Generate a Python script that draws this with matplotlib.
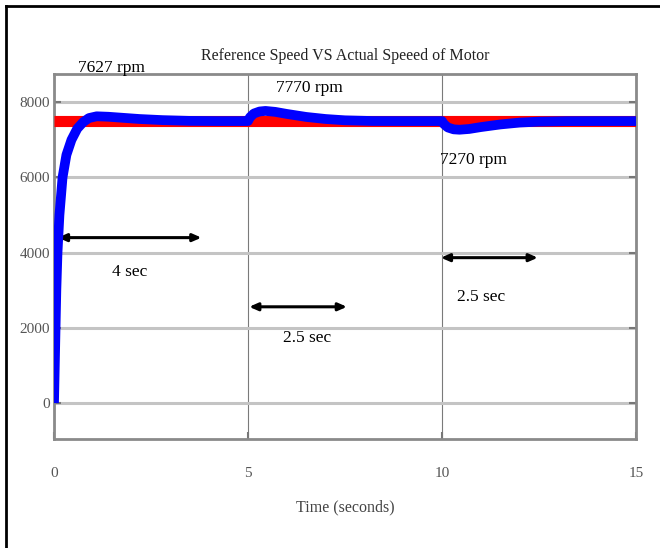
"""
Reference speed vs actual speed of the motor (speed controller step test).

Red: reference speed (7500 rpm), blue: measured motor speed.
Output: out.png
"""

import matplotlib
matplotlib.use('Agg')
import matplotlib.pyplot as plt
from matplotlib.lines import Line2D

# ---- Data ------------------------------------------------------------
REF_TIME  = [0, 15]
REF_SPEED = [7500, 7500]

ACT_TIME = [0, 0.03, 0.06, 0.09, 0.14, 0.22, 0.32, 0.45, 0.6, 0.75, 0.9,
            1.1, 1.4, 1.8, 2.2, 2.8, 3.5, 4.2, 5.0,
            5.05, 5.15, 5.3, 5.45, 5.7, 6.0, 6.5, 7.0, 7.5, 8.2, 9.0, 10.0,
            10.05, 10.15, 10.3, 10.45, 10.7, 11.0, 11.5, 12.0, 12.5, 13.2,
            14.0, 15.0]
ACT_SPEED = [0, 1500, 3000, 4000, 5000, 6000, 6600, 7000, 7300, 7470, 7580,
             7627, 7615, 7585, 7555, 7525, 7505, 7500, 7500,
             7600, 7700, 7755, 7770, 7745, 7690, 7610, 7555, 7520, 7502, 7500, 7500,
             7420, 7330, 7280, 7270, 7290, 7340, 7410, 7460, 7485, 7498,
             7500, 7500]

PEAK_LABELS = ['7627 rpm', '7770 rpm', '7270 rpm']
SPAN_LABELS = ['4 sec', '2.5 sec', '2.5 sec']
SPAN_START  = [0.1, 5.03, 9.97]
SPAN_END    = [3.8, 7.55, 12.47]

X_TICKS = [0, 5, 10, 15]
Y_TICKS = [0, 2000, 4000, 6000, 8000]

TITLE  = 'Reference Speed VS Actual Speeed of Motor'
XLABEL = 'Time (seconds)'

plt.rcParams['font.family'] = ['Liberation Serif', 'DejaVu Serif']

W, H = 660, 548


def main():
    fig = plt.figure(figsize=(W / 100, H / 100), dpi=100)
    ax = fig.add_axes([54 / W, 1 - 439 / H, (636 - 54) / W, (439 - 74) / H])

    ax.plot(REF_TIME, REF_SPEED, color='#ff0000', lw=8, solid_capstyle='butt', zorder=3)
    ax.plot(ACT_TIME, ACT_SPEED, color='#0000ff', lw=7, solid_capstyle='butt',
            solid_joinstyle='round', zorder=4)

    ax.set_xlim(0, 15)
    ax.set_ylim(-956, 8752)
    ax.set_xticks(X_TICKS)
    ax.set_yticks(Y_TICKS)

    # grid: heavy light-gray horizontal lines, thin dark vertical lines
    ax.yaxis.grid(True, color='#c4c4c4', lw=2.2)
    ax.xaxis.grid(True, color='#7a7a7a', lw=0.8)
    ax.set_axisbelow(True)

    for s in ax.spines.values():
        s.set_color('#8a8a8a')
        s.set_linewidth(2)

    ax.tick_params(axis='both', direction='in', length=5, width=1.5, color='#777777',
                   labelcolor='#555555', labelsize=11)
    ax.tick_params(axis='y', right=True, pad=3)
    ax.tick_params(axis='x', pad=20)

    # peak annotations
    ax.text(0.62, 8907, PEAK_LABELS[0], fontsize=12.5, ha='left', va='center')
    ax.text(5.72, 8373, PEAK_LABELS[1], fontsize=12.5, ha='left', va='center')
    ax.text(9.95, 6453, PEAK_LABELS[2], fontsize=12.5, ha='left', va='center')

    # settling time arrows
    arrow_y = [4400, 2560, 3867]
    label_xy = [(1.96, 3493), (6.52, 1733), (11.0, 2827)]
    for x0, x1, y, (lx, ly), lab in zip(SPAN_START, SPAN_END, arrow_y, label_xy, SPAN_LABELS):
        ax.annotate('', xy=(x1, y), xytext=(x0, y),
                    arrowprops=dict(arrowstyle='<|-|>,head_length=0.5,head_width=0.22',
                                    color='black', lw=2.2, shrinkA=0, shrinkB=0))
        ax.text(lx, ly, lab, fontsize=12.5, ha='center', va='center')

    fig.text(345 / W, 1 - 60 / H, TITLE, fontsize=11.5, color='#222222',
             ha='center', va='baseline')
    fig.text(345 / W, 1 - 507 / H, XLABEL, fontsize=11.5, color='#444444',
             ha='center', va='center')

    # outer frame (only left and top edges show in the crop)
    fig.add_artist(Line2D([6 / W, 6 / W], [0, 1 - 6 / H], color='black', lw=2))
    fig.add_artist(Line2D([6 / W, 1], [1 - 6 / H, 1 - 6 / H], color='black', lw=2))

    fig.savefig('out.png', dpi=100)


if __name__ == '__main__':
    main()
